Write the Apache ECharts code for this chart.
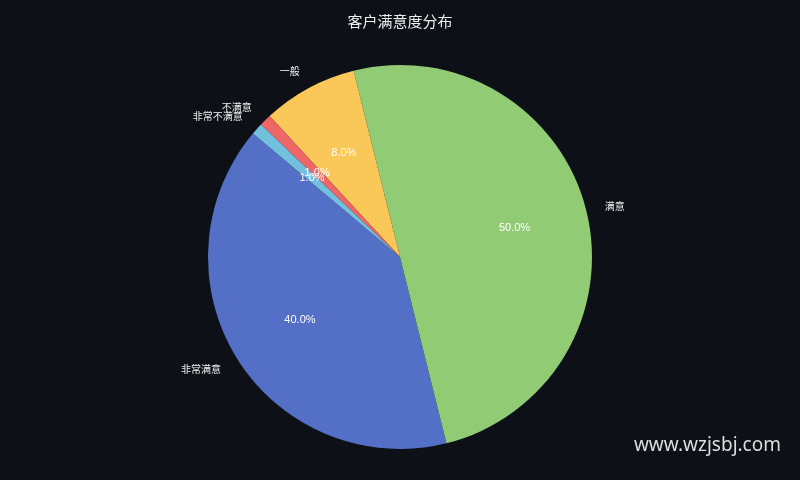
<!DOCTYPE html>
<html>
<head>
<meta charset="utf-8">
<script src="https://cdn.jsdelivr.net/npm/echarts@6/dist/echarts.min.js"></script>
<style>
  html, body { margin: 0; padding: 0; background: #0d1017; }
  #chart { width: 800px; height: 480px; }
</style>
</head>
<body>
<div id="chart"></div>
<script>
// 数据
const categories = ['非常满意', '满意', '一般', '不满意', '非常不满意']
const values = [40, 50, 8, 1, 1]
const colors = ['#5470c6', '#91cc75', '#fac858', '#ee6666', '#73c0de']

const R = 192
const total = values.reduce((a, b) => a + b, 0)
const pieData = categories.map((name, i) => ({
  name: name,
  value: values[i],
  itemStyle: { color: colors[i] }
}))

let myChart = echarts.init(document.getElementById('chart'))

myChart.setOption({
  backgroundColor: '#0d1017',
  animation: false,
  title: {
    text: '客户满意度分布',
    left: 'center',
    top: 9,
    textStyle: { color: '#eeeeee', fontSize: 15, fontWeight: 'normal', fontFamily: 'Noto Sans CJK SC' }
  },
  graphic: [{
    type: 'text',
    right: 19,
    top: 436,
    style: { text: 'www.wzjsbj.com', fill: '#dddddd', fontSize: 19, fontFamily: 'Noto Sans' }
  }],
  series: [
    // 扇区 + 外侧类别标签
    {
      type: 'pie',
      center: [400, 257],
      radius: [0, R],
      startAngle: 140,
      clockwise: false,
      avoidLabelOverlap: false,
      silent: true,
      label: {
        position: 'outside',
        color: '#eeeeee',
        fontSize: 10,
        fontFamily: 'Noto Sans CJK SC',
        distanceToLabelLine: 0
      },
      labelLine: { show: false, length: 19, length2: 0 },
      labelLayout: { hideOverlap: false },
      data: pieData
    },
    // 百分比标签
    {
      type: 'pie',
      center: [400, 257],
      radius: [38, R],
      startAngle: 140,
      clockwise: false,
      avoidLabelOverlap: false,
      silent: true,
      itemStyle: { color: 'transparent' },
      label: {
        position: 'inside',
        color: '#ffffff',
        fontSize: 11,
        fontFamily: 'Liberation Sans',
        formatter: p => (p.value / total * 100).toFixed(1) + '%'
      },
      labelLine: { show: false },
      labelLayout: { hideOverlap: false },
      data: categories.map((name, i) => ({ name: name, value: values[i] }))
    }
  ]
})
</script>
</body>
</html>
